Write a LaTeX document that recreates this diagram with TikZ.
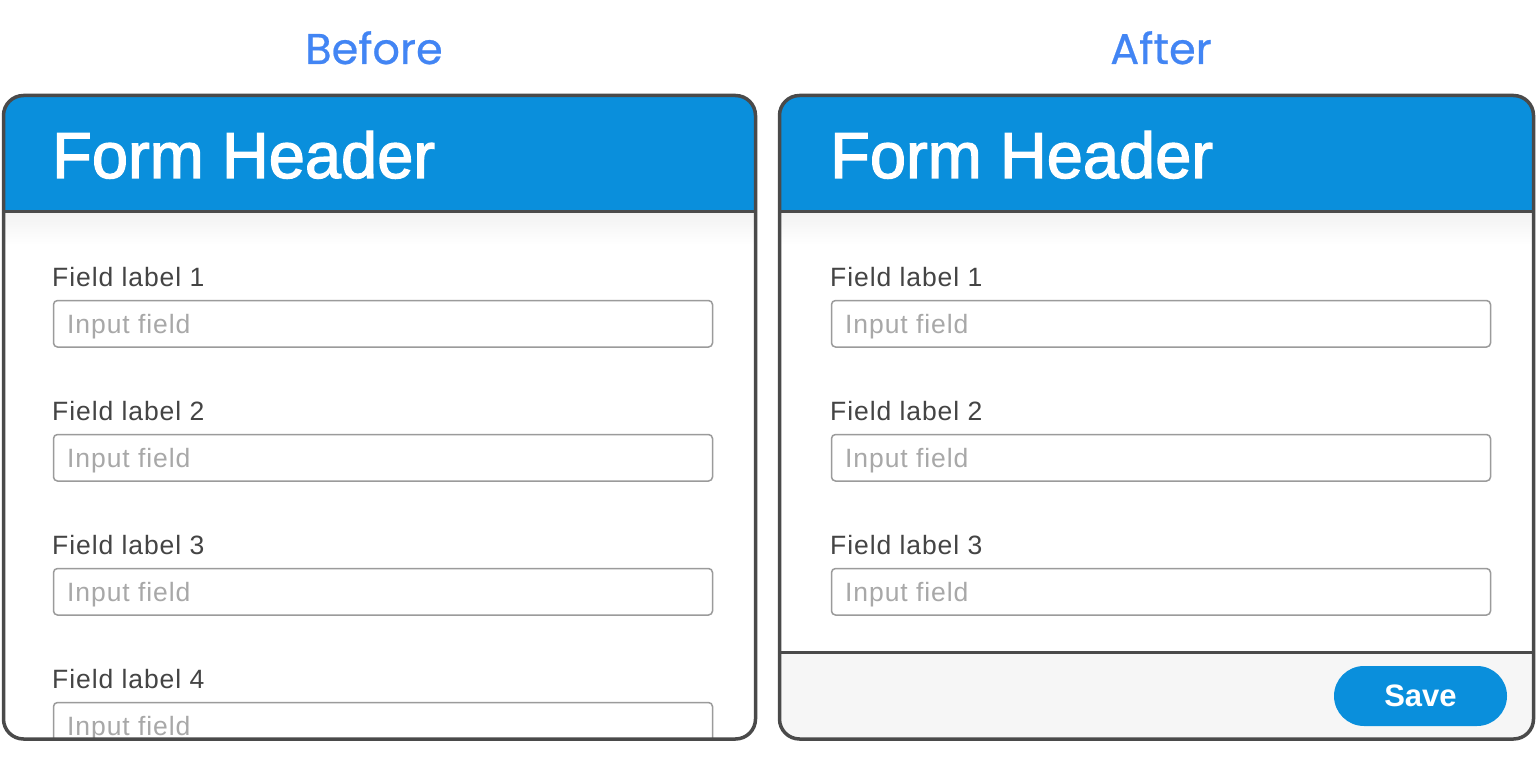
\documentclass[tikz,border=0pt]{standalone}
\usepackage{fontspec}
\setmainfont{Liberation Sans}
\newfontfamily\titlefont[FakeBold=0.6]{Poppins}
\newfontfamily\labelfont[LetterSpace=3.5]{Liberation Sans}
\newfontfamily\hdrfont[FakeBold=2]{Liberation Sans}
\definecolor{hdr}{HTML}{0A8FDC}
\definecolor{edge}{HTML}{4A4A4A}
\definecolor{ttl}{HTML}{4285F4}
\definecolor{lbltxt}{HTML}{444444}
\definecolor{phtxt}{HTML}{A8A8A8}
\definecolor{inedge}{HTML}{9B9B9B}
\definecolor{foot}{HTML}{F6F6F6}
\tikzset{
  paneledge/.style={draw=edge, line width=3.5pt, rounded corners=20pt},
  hdrline/.style={draw=edge, line width=3pt},
  fieldbox/.style={draw=inedge, line width=1.5pt, rounded corners=4pt, minimum width=659pt, minimum height=46.5pt, inner sep=0pt, anchor=north west},
  lbl/.style={text=lbltxt, inner sep=0pt, anchor=base west, font=\labelfont\fontsize{26.5}{30}\selectfont},
  ph/.style={text=phtxt, inner sep=0pt, anchor=base west, font=\labelfont\fontsize{26.5}{30}\selectfont},
  hdrtext/.style={text=white, inner sep=0pt, anchor=base west, font=\hdrfont\fontsize{65}{70}\selectfont},
  ttlstyle/.style={text=ttl, inner sep=0pt, anchor=base, font=\titlefont\fontsize{43}{50}\selectfont},
  savebtn/.style={fill=hdr, text=white, rounded corners=30pt, minimum width=173pt, minimum height=60pt, inner sep=0pt, font=\bfseries\fontsize{31}{36}\selectfont}
}
\begin{document}
\begin{tikzpicture}[x=1pt,y=-1pt]
\useasboundingbox (0,0) rectangle (1536,762);
\fill[white] (0,0) rectangle (1536,762);
% titles
\node[ttlstyle] (tbefore) at (374,64) {Before};
\node[ttlstyle] (tafter) at (1161,64) {After};
% ---------- left panel ----------
\begin{scope}
\clip[rounded corners=20pt] (3.5,95.5) rectangle (755.5,739);
\fill[hdr] (0,90) rectangle (760,212);
\shade[top color=black!5, bottom color=white] (0,213.5) rectangle (760,245);
\foreach \i [evaluate=\i as \yy using 299+134*(\i-1)] in {1,...,4} {
  \node[fieldbox] (lf\i) at (52.75,\yy+0.75) {};
  \node[lbl] (ll\i) at (52,\yy-13) {Field label \i};
  \node[ph] (lp\i) at (67,\yy+34) {Input field};
}
\end{scope}
\draw[hdrline] (3.5,212) -- (755.5,212);
\draw[paneledge] (3.5,95.5) rectangle (755.5,739);
\node[hdrtext] (lhdr) at (52,178) {Form Header};
% ---------- right panel ----------
\begin{scope}
\clip[rounded corners=20pt] (779.5,95.5) rectangle (1533.5,739);
\fill[hdr] (775,90) rectangle (1540,212);
\shade[top color=black!5, bottom color=white] (775,213.5) rectangle (1540,245);
\fill[foot] (775,652) rectangle (1540,745);
\foreach \i [evaluate=\i as \yy using 299+134*(\i-1)] in {1,...,3} {
  \node[fieldbox] (rf\i) at (830.75,\yy+0.75) {};
  \node[lbl] (rl\i) at (830,\yy-13) {Field label \i};
  \node[ph] (rp\i) at (845,\yy+34) {Input field};
}
\end{scope}
\draw[hdrline] (779.5,212) -- (1533.5,212);
\draw[hdrline] (779.5,652) -- (1533.5,652);
\draw[paneledge] (779.5,95.5) rectangle (1533.5,739);
\node[hdrtext] (rhdr) at (830,178) {Form Header};
\node[savebtn] (save) at (1420.5,696) {Save};
\end{tikzpicture}
\end{document}
